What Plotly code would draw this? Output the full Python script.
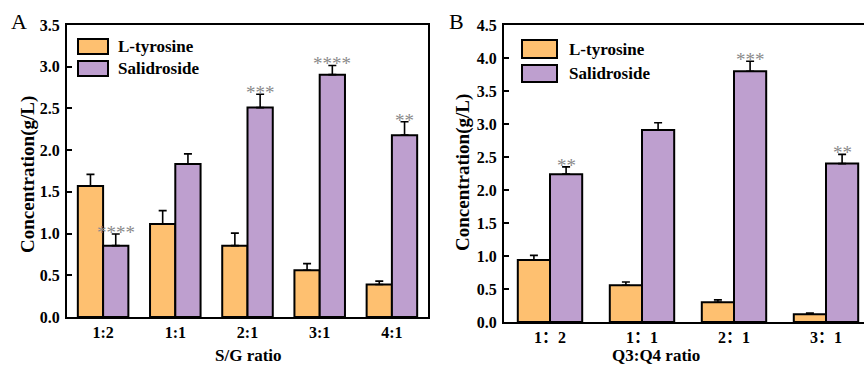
import plotly.graph_objects as go

# ---------------- data ----------------
series_names = ["L-tyrosine", "Salidroside"]

a_categories = ["1:2", "1:1", "2:1", "3:1", "4:1"]
a_tyrosine = [1.57, 1.115, 0.855, 0.56, 0.39]
a_tyrosine_err = [0.14, 0.16, 0.15, 0.08, 0.04]
a_salidroside = [0.855, 1.835, 2.51, 2.905, 2.18]
a_salidroside_err = [0.14, 0.12, 0.16, 0.11, 0.16]
a_stars = ["****", "", "***", "****", "**"]

b_categories = ["1：2", "1：1", "2：1", "3：1"]
b_tyrosine = [0.94, 0.556, 0.30, 0.117]
b_tyrosine_err = [0.07, 0.05, 0.035, 0.02]
b_salidroside = [2.24, 2.91, 3.80, 2.40]
b_salidroside_err = [0.11, 0.11, 0.15, 0.14]
b_stars = ["**", "", "***", "**"]

a_yticks = [0.0, 0.5, 1.0, 1.5, 2.0, 2.5, 3.0, 3.5]
b_yticks = [0.0, 0.5, 1.0, 1.5, 2.0, 2.5, 3.0, 3.5, 4.0, 4.5]

# ---------------- style ----------------
W, H = 864, 366
FONT = "Liberation Serif, Times New Roman, Noto Sans CJK SC, serif"
ORANGE = "#FEC070"
PURPLE = "#BE9FCF"
STAR = "#8a8a8a"
colors = [ORANGE, PURPLE]
BAR_OFF = 0.175


def px_x(p):
    return p / W


def px_y(p):
    return 1 - p / H


fig = go.Figure()

panels = [
    ("x", "y", a_categories, [a_tyrosine, a_salidroside], [a_tyrosine_err, a_salidroside_err], a_stars),
    ("x2", "y2", b_categories, [b_tyrosine, b_salidroside], [b_tyrosine_err, b_salidroside_err], b_stars),
]

annotations = []
for xa, ya, cats, vals, errs, stars in panels:
    idx = list(range(len(cats)))
    for k in range(2):
        fig.add_trace(go.Bar(
            x=idx, y=vals[k], name=series_names[k], xaxis=xa, yaxis=ya,
            marker=dict(color=colors[k], line=dict(color="black", width=2)),
            error_y=dict(type="data", symmetric=False, array=errs[k],
                         arrayminus=[0] * len(cats), color="black",
                         thickness=1.6, width=4),
            showlegend=False,
        ))
    for i, s in enumerate(stars):
        if s:
            annotations.append(dict(
                x=i + BAR_OFF, y=vals[1][i] + errs[1][i], xref=xa, yref=ya,
                text=s, showarrow=False, xanchor="center", yanchor="bottom", yshift=-11,
                font=dict(family=FONT, size=19, color=STAR),
            ))

axis_common = dict(showline=True, linecolor="black", linewidth=2,
                   showgrid=False, zeroline=False, automargin=False,
                   tickfont=dict(family=FONT, size=16, color="black", weight="bold"))

fig.update_layout(
    width=W, height=H,
    margin=dict(l=0, r=0, t=0, b=0, autoexpand=False),
    plot_bgcolor="white", paper_bgcolor="white",
    showlegend=False,
    barmode="group", bargap=0.3, bargroupgap=0,
    xaxis=dict(domain=[px_x(67), px_x(428)], anchor="y", range=[-0.5, 4.5],
               tickvals=list(range(len(a_categories))), ticktext=a_categories,
               ticks="", mirror=True, ticklabelstandoff=0, **axis_common),
    yaxis=dict(domain=[px_y(317), px_y(25)], anchor="x", range=[0, 3.5],
               tickvals=a_yticks, ticktext=[f"{v:.1f}" for v in a_yticks],
               ticks="inside", ticklen=5, tickwidth=1.5, tickcolor="black",
               ticklabelstandoff=2, mirror=True, **axis_common),
    xaxis2=dict(domain=[px_x(504), 1.0], anchor="y2", range=[-0.5, -0.5 + 360 / 92],
                tickvals=list(range(len(b_categories))), ticktext=b_categories,
                ticks="", mirror=True, ticklabelstandoff=0, **axis_common),
    yaxis2=dict(domain=[px_y(322), px_y(25)], anchor="x2", range=[0, 4.5],
                tickvals=b_yticks, ticktext=[f"{v:.1f}" for v in b_yticks],
                ticks="inside", ticklen=5, tickwidth=1.5, tickcolor="black",
                ticklabelstandoff=2, mirror=False, **axis_common),
    font=dict(family=FONT, color="black"),
)

# axis titles and panel letters
ytitle = dict(family=FONT, size=19, color="black", weight="bold")
xtitle = dict(family=FONT, size=17, color="black", weight="bold")
ann_common = dict(xref="paper", yref="paper", showarrow=False, xanchor="center", yanchor="middle")
annotations += [
    dict(x=px_x(28), y=px_y(175), text="Concentration(g/L)", textangle=-90, font=ytitle, **ann_common),
    dict(x=px_x(463), y=px_y(173), text="Concentration(g/L)", textangle=-90, font=ytitle, **ann_common),
    dict(x=px_x(248), y=px_y(355), text="S/G ratio", font=xtitle, **ann_common),
    dict(x=px_x(656), y=px_y(355), text="Q3:Q4 ratio", font=xtitle, **ann_common),
    dict(x=px_x(19), y=px_y(22), text="A", font=dict(family=FONT, size=22, color="black"), **ann_common),
    dict(x=px_x(456), y=px_y(22), text="B", font=dict(family=FONT, size=22, color="black"), **ann_common),
]

# manual legends (box geometry in pixels)
legend_specs = [
    (78, 108, [(39, 54), (61, 76)], 116),
    (522, 557, [(40, 58), (65, 82)], 567),
]
shapes = []
for x0, x1, rows, tx in legend_specs:
    for k, (y0, y1) in enumerate(rows):
        shapes.append(dict(type="rect", xref="paper", yref="paper",
                           x0=px_x(x0), x1=px_x(x1), y0=px_y(y1), y1=px_y(y0),
                           fillcolor=colors[k], line=dict(color="black", width=2)))
        annotations.append(dict(x=px_x(tx), y=px_y((y0 + y1) / 2), xref="paper", yref="paper",
                                text=series_names[k], showarrow=False,
                                xanchor="left", yanchor="middle",
                                font=dict(family=FONT, size=17, color="black", weight="bold")))

fig.update_layout(annotations=annotations, shapes=shapes)

fig.write_html(
    "out.html",
    config={"responsive": False, "displayModeBar": False},
    post_script="document.body.style.margin='0';document.body.style.overflow='hidden';",
)
